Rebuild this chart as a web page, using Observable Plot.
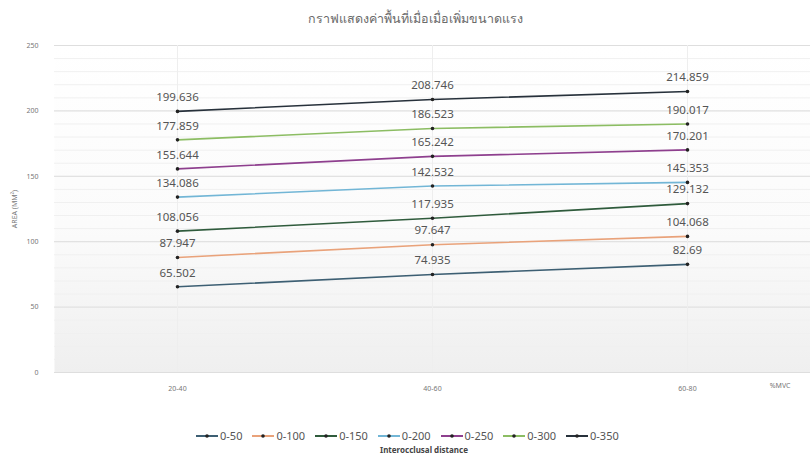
<!DOCTYPE html>
<html><head><meta charset="utf-8">
<script src="https://cdn.jsdelivr.net/npm/d3@7"></script>
<script src="https://cdn.jsdelivr.net/npm/@observablehq/plot@0.6"></script>
<style>
body{margin:0;background:#fff;font-family:"Noto Sans",sans-serif;}
#wrap{position:relative;width:810px;height:456px;}
#title{position:absolute;top:9px;left:10px;width:810px;text-align:center;font-size:12.5px;color:#6a6a6a;}
#chart{position:absolute;top:36px;left:0;}
#legend{position:absolute;top:428px;left:196px;display:flex;gap:10px;font-size:11px;color:#555;}
#legend span.it{display:flex;align-items:center;gap:2px;}
#xtitle{position:absolute;top:444px;left:16px;width:816px;text-align:center;font-size:8px;font-weight:bold;color:#444;}
</style></head>
<body><div id="wrap">
<div id="title">กราฟแสดงค่าพื้นที่เมื่อเมื่อเพิ่มขนาดแรง</div>
<div id="chart"></div>
<div id="legend"></div>
<div id="xtitle">Interocclusal distance</div>
</div>
<script>
const categories = ["20-40", "40-60", "60-80"];
const seriesNames = ["0-50", "0-100", "0-150", "0-200", "0-250", "0-300", "0-350"];
const values_0_50  = [65.502, 74.935, 82.69];
const values_0_100 = [87.947, 97.647, 104.068];
const values_0_150 = [108.056, 117.935, 129.132];
const values_0_200 = [134.086, 142.532, 145.353];
const values_0_250 = [155.644, 165.242, 170.201];
const values_0_300 = [177.859, 186.523, 190.017];
const values_0_350 = [199.636, 208.746, 214.859];
const colors = ["#3d5f73", "#e9a27a", "#2f5b3c", "#72b6d6", "#8e3f8e", "#8cbd63", "#27313b"];
const yTicks = [0, 50, 100, 150, 200, 250];
const yMinor = d3.range(0, 251, 10);

const allVals = [values_0_50, values_0_100, values_0_150, values_0_200, values_0_250, values_0_300, values_0_350];
const data = [];
seriesNames.forEach((s, i) => categories.forEach((c, j) => data.push({series: s, cat: c, v: allVals[i][j]})));

const plot = Plot.plot({
  width: 810, height: 370,
  marginLeft: 54, marginRight: 0, marginTop: 9, marginBottom: 34,
  style: {fontFamily: "Noto Sans, sans-serif", color: "#777"},
  x: {type: "point", domain: categories, padding: 0.4766, label: null, tickSize: 0, tickPadding: 14},
  y: {domain: [0, 250], ticks: yTicks, label: "AREA (MM²)", labelArrow: "none", labelAnchor: "center", labelOffset: 42, tickSize: 0, tickPadding: 16},
  color: {domain: seriesNames, range: colors},
  marks: [
    Plot.frame({fill: "url(#bggrad)", stroke: "none"}),
    Plot.ruleY(yMinor, {stroke: "#f0f0f0", strokeWidth: 1}),
    Plot.ruleY(yTicks, {stroke: "#dedede", strokeWidth: 1}),
    Plot.ruleX(categories, {stroke: "#eeeeee"}),
    Plot.line(data, {x: "cat", y: "v", z: "series", stroke: "series", strokeWidth: 1.6}),
    Plot.dot(data, {x: "cat", y: "v", fill: "#222", r: 1.8}),
    Plot.text(data, {x: "cat", y: "v", text: d => String(d.v), dy: -14, fontSize: 11.5, fill: "#555"}),
    Plot.text(["%MVC"], {frameAnchor: "bottom-right", dx: -20, dy: 15, fontSize: 7, fill: "#777"})
  ]
});
const svg = d3.select(plot);
const defs = svg.insert("defs", ":first-child");
const g = defs.append("linearGradient").attr("id", "bggrad").attr("x1", 0).attr("y1", 0).attr("x2", 0).attr("y2", 1);
g.append("stop").attr("offset", "0%").attr("stop-color", "#ffffff");
g.append("stop").attr("offset", "55%").attr("stop-color", "#fbfbfb");
g.append("stop").attr("offset", "100%").attr("stop-color", "#efefef");
svg.selectAll("g[aria-label='y-axis tick label'] text, g[aria-label='x-axis tick label'] text").style("font-size", "7px");
svg.selectAll("g[aria-label='y-axis label'] text").style("font-size", "7px");
document.getElementById("chart").appendChild(plot);

const leg = document.getElementById("legend");
seriesNames.forEach((s, i) => {
  const it = document.createElement("span");
  it.className = "it";
  it.innerHTML = `<svg width="22" height="8"><line x1="0" y1="4" x2="22" y2="4" stroke="${colors[i]}" stroke-width="2"/><circle cx="11" cy="4" r="1.8" fill="#222"/></svg>${s}`;
  leg.appendChild(it);
});
</script>
</body></html>
